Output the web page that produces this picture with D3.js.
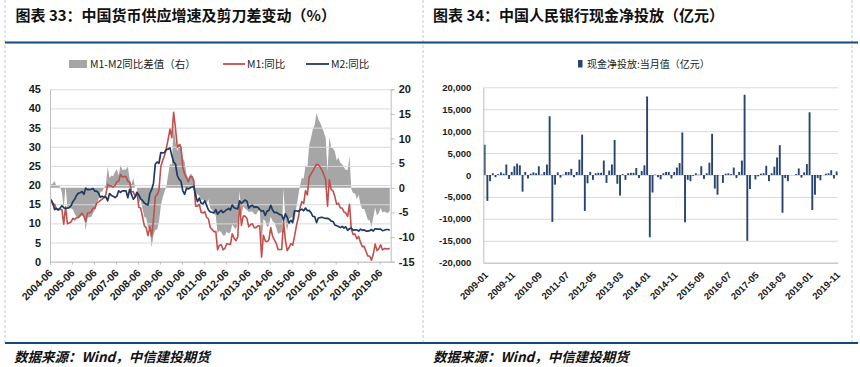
<!DOCTYPE html>
<html><head><meta charset="utf-8">
<script src="https://cdn.jsdelivr.net/npm/d3@7"></script>
<style>
body{margin:0;background:#fff;}
svg{display:block;}
</style></head><body>
<svg id="c" width="860" height="367"></svg>
<script>
// ---------- DATA: left chart (monthly, 2004-06 .. 2019-11) ----------
const leftStart = "2004-06";
const leftTickLabels = ["2004-06","2005-06","2006-06","2007-06","2008-06","2009-06","2010-06","2011-06","2012-06","2013-06","2014-06","2015-06","2016-06","2017-06","2018-06","2019-06"];
const m1 = [
16.2,15.0,15.0,13.7,13.6,13.7,13.6,
9.8,14.3,9.9,10.1,10.4,11.3,11.0,11.5,11.6,12.1,12.7,11.8,
10.6,12.7,12.8,13.0,14.0,13.9,15.3,15.6,16.0,16.3,16.8,17.5,
20.2,19.8,19.8,19.5,19.9,20.9,21.0,22.8,22.1,22.2,22.2,21.0,
20.7,18.2,18.3,16.9,18.1,14.2,14.0,11.7,9.4,8.9,6.8,9.1,
6.7,10.9,17.0,17.5,18.7,24.8,26.4,27.7,29.5,32.0,34.6,32.4,
39.0,34.9,29.9,30.5,29.9,24.6,22.9,21.9,20.9,22.1,22.2,21.2,
14.5,14.5,15.0,12.9,12.7,13.1,11.6,11.2,8.9,8.4,7.8,7.9,
3.1,4.3,4.4,3.1,3.5,4.7,4.6,4.5,7.3,6.1,5.5,6.5,
15.3,9.5,11.9,11.9,11.3,9.1,9.7,9.9,8.9,8.9,9.4,9.3,
1.2,6.9,5.4,5.2,5.7,8.9,6.7,5.7,4.8,3.2,3.2,3.2,
10.6,5.6,2.9,3.7,4.7,4.3,6.6,9.3,11.4,14.0,15.7,15.2,
18.6,17.4,22.1,22.9,23.7,24.6,25.4,25.3,24.7,23.9,22.7,21.4,
14.5,21.4,18.8,18.5,17.0,15.0,15.3,14.0,14.0,13.0,12.7,11.8,
15.0,8.5,7.1,7.2,6.0,6.6,5.1,3.9,4.0,2.7,1.5,1.5,
0.4,2.0,4.6,2.9,3.4,4.4,3.1,3.4,3.4,3.3,3.5];
const m2 = [
16.2,15.3,13.6,13.9,13.5,14.0,14.6,
14.1,13.9,14.0,14.1,14.6,15.7,16.3,17.3,17.9,18.0,18.3,17.6,
19.2,18.8,18.8,18.9,19.1,18.4,18.4,17.9,16.8,17.1,16.8,16.9,
15.9,17.8,17.3,17.1,16.7,17.1,18.5,18.1,18.5,18.5,18.5,16.7,
18.9,17.5,16.3,16.9,18.1,17.4,16.4,16.0,15.3,15.0,14.8,17.8,
18.8,20.5,25.5,26.0,25.7,28.5,28.4,28.5,29.3,29.4,29.7,27.7,
26.0,25.5,22.5,21.5,21.0,18.5,17.6,19.2,19.0,19.3,19.5,19.7,
17.2,15.7,16.6,15.3,15.1,15.9,14.7,13.5,13.0,12.9,12.7,13.6,
12.4,13.0,13.4,12.8,13.2,13.6,13.9,13.5,14.8,14.1,13.9,13.8,
15.9,15.2,15.7,16.1,15.8,14.0,14.5,14.7,14.2,14.3,14.2,13.6,
13.2,13.3,12.1,13.2,13.4,14.7,13.5,12.8,12.9,12.6,12.3,12.2,
10.8,12.5,11.6,10.1,10.8,10.2,13.3,13.3,13.1,13.5,13.7,13.3,
14.0,13.3,13.4,12.8,11.8,11.8,10.2,11.4,11.5,11.6,11.4,11.3,
11.3,11.1,10.6,10.5,9.6,9.4,9.2,8.9,9.2,8.8,9.1,8.2,
8.6,8.8,8.2,8.3,8.3,8.0,8.5,8.2,8.3,8.0,8.0,8.1,
8.4,8.0,8.6,8.5,8.5,8.5,8.1,8.2,8.4,8.4,8.2];
const gap = [
0.6,0.9,1.4,0.3,0.5,0.2,-1.0,
-4.3,0.4,-4.1,-4.0,-4.2,-4.4,-5.3,-5.8,-6.3,-5.9,-5.6,-5.8,
-8.6,-6.1,-6.0,-5.9,-5.1,-4.5,-3.1,-2.3,-0.8,-0.8,0.0,0.6,
4.3,2.0,2.5,2.4,3.2,3.8,2.5,4.7,3.6,3.7,3.7,4.3,
1.8,0.7,2.0,0.0,0.0,-3.2,-2.4,-4.3,-5.9,-6.1,-8.0,-8.7,
-12.1,-9.6,-8.5,-8.5,-7.0,-3.7,-2.0,-0.8,0.2,2.6,4.9,4.7,
13.0,9.4,7.4,9.0,8.9,6.1,5.3,2.7,1.9,2.8,2.7,1.5,
-2.7,-1.2,-1.6,-2.4,-2.4,-2.8,-3.1,-2.3,-4.1,-4.5,-4.9,-5.7,
-9.3,-8.7,-9.0,-9.7,-9.7,-8.9,-9.3,-9.0,-7.5,-8.0,-8.4,-7.3,
-0.6,-5.7,-3.8,-4.2,-4.5,-4.9,-4.8,-4.8,-5.3,-5.4,-4.8,-4.3,
-12.0,-6.4,-6.7,-8.0,-7.7,-5.8,-6.8,-7.1,-8.1,-9.4,-9.1,-9.0,
-0.2,-6.9,-8.7,-6.4,-6.1,-5.9,-6.7,-4.0,-1.7,0.5,2.0,1.9,
4.6,4.1,8.7,10.1,11.9,12.8,15.2,13.9,13.2,12.3,11.3,10.1,
3.2,10.3,8.2,8.0,7.4,5.6,6.1,5.1,4.8,4.2,3.6,3.6,
6.4,-0.3,-1.1,-1.1,-2.3,-1.4,-3.4,-4.3,-4.3,-5.3,-6.5,-6.6,
-8.0,-6.0,-4.0,-5.6,-5.1,-4.1,-5.0,-4.8,-5.0,-5.1,-4.7];
const leftTicksL = [0,5,10,15,20,25,30,35,40,45];
const leftTicksR = [-15,-10,-5,0,5,10,15,20];

// ---------- DATA: right chart (monthly, 2009-01 .. 2019-11, 亿元) ----------
const rightTickLabels = ["2009-01","2009-11","2010-09","2011-07","2012-05","2013-03","2014-01","2014-11","2015-09","2016-07","2017-05","2018-03","2019-01","2019-11"];
const cash = [
6900,-5900,-1400,400,-500,200,600,300,2400,-900,700,2000,
2600,2200,-3800,700,-800,300,600,400,2000,100,700,2400,
13400,-10700,-2200,600,-600,100,700,700,1400,-500,700,3500,
9200,-8200,-1900,700,-1100,400,500,500,3300,-1800,1000,2400,
8000,-2000,-4700,200,-1100,400,500,500,1600,-700,900,2200,
17900,-14200,-4000,100,-500,-1000,400,700,700,-800,700,1700,
2700,9700,-10800,-1100,-1400,-200,400,100,2000,-900,400,2800,
9400,-3100,-4500,0,-1800,300,400,200,1700,-700,700,3300,
18300,-15000,-3200,0,-1000,-300,300,400,2100,-1400,400,1900,
4000,6800,-8600,-700,-1400,0,0,200,1500,-600,600,2500,
14300,-8000,-4500,-700,-1200,0,300,400,1100,-800,800];
const rightTicks = [-20000,-15000,-10000,-5000,0,5000,10000,15000,20000];

// ---------- helpers ----------
const svg = d3.select("#c");
const fmtMinus = f => v => f(v).replace("\u2212","-");
const numFont = "'Liberation Sans', Arial, sans-serif";
const cjkFont = "'Noto Sans CJK SC', sans-serif";
const gridC = "#d9d9d9", axisC = "#bfbfbf";

// ---------- frame ----------
const frame = svg.append("g");
[5, 423, 852].forEach(x => frame.append("line").attr("x1",x).attr("x2",x).attr("y1",0).attr("y2",343)
  .attr("stroke","#c8c8c8").attr("stroke-dasharray","3,2").attr("stroke-width",1));
frame.append("line").attr("x1",5).attr("x2",858).attr("y1",42.5).attr("y2",42.5).attr("stroke","#0f4c7b").attr("stroke-width",2.2);
frame.append("line").attr("x1",5).attr("x2",858).attr("y1",343).attr("y2",343).attr("stroke","#0f4c7b").attr("stroke-width",2.2);

svg.append("text").attr("x",15.5).attr("y",21).attr("font-family",cjkFont).attr("font-weight",700).attr("font-size",15).attr("fill","#111")
  .text("图表 33：中国货币供应增速及剪刀差变动（%）");
svg.append("text").attr("x",433).attr("y",21).attr("font-family",cjkFont).attr("font-weight",700).attr("font-size",15).attr("fill","#111")
  .text("图表 34：中国人民银行现金净投放（亿元）");
[14, 433].forEach(x => svg.append("text").attr("x",x).attr("y",362).attr("font-family",cjkFont).attr("font-weight",700)
  .attr("font-style","italic").attr("font-size",13.5).attr("fill","#111").text("数据来源：Wind，中信建投期货"));

// ---------- LEFT CHART ----------
(function(){
  const X0 = 50, X1 = 390.7, Y0 = 89.3, Y1 = 261.7;
  const n = m1.length;
  const xI = d3.scaleLinear().domain([0, n]).range([X0, X1]);
  const yL = d3.scaleLinear().domain([0,45]).range([Y1, Y0]);
  const yR = d3.scaleLinear().domain([-15,20]).range([Y1, Y0]);
  const g = svg.append("g");

  // area (gap, right axis)
  g.append("path").datum(gap)
    .attr("d", d3.area().x((d,i)=>xI(i+0.5)).y0(yR(0)).y1(d=>yR(d)))
    .attr("fill","#a6a6a6");

  // gridlines
  const grid = g.append("g").attr("transform",`translate(${X0},0)`)
    .call(d3.axisLeft(yL).tickValues(leftTicksL).tickSize(-(X1-X0)).tickFormat(""));
  grid.select(".domain").remove();
  grid.selectAll("line").attr("stroke",gridC).attr("stroke-width",1);

  // lines
  g.append("path").datum(m1).attr("d", d3.line().x((d,i)=>xI(i+0.5)).y(d=>yL(d)))
    .attr("fill","none").attr("stroke","#c0504d").attr("stroke-width",1.6).attr("stroke-linejoin","round");
  g.append("path").datum(m2).attr("d", d3.line().x((d,i)=>xI(i+0.5)).y(d=>yL(d)))
    .attr("fill","none").attr("stroke","#1f3b63").attr("stroke-width",1.7).attr("stroke-linejoin","round");

  // left axis
  const ax = g.append("g").attr("transform",`translate(${X0},0)`)
    .call(d3.axisLeft(yL).tickValues(leftTicksL).tickSize(0).tickPadding(9).tickFormat(d3.format("d")));
  ax.select(".domain").attr("stroke",axisC);
  ax.selectAll("text").attr("font-family",numFont).attr("font-weight",700).attr("font-size",11).attr("fill","#1a1a1a");

  // right axis
  const ar = g.append("g").attr("transform",`translate(${X1},0)`)
    .call(d3.axisRight(yR).tickValues(leftTicksR).tickSize(4).tickPadding(4).tickFormat(fmtMinus(d3.format("d"))));
  ar.select(".domain").attr("stroke",axisC);
  ar.selectAll("line").attr("stroke",axisC);
  ar.selectAll("text").attr("font-family",numFont).attr("font-weight",700).attr("font-size",11).attr("fill","#1a1a1a");

  // bottom axis
  const tickIdx = leftTickLabels.map((d,k)=>k*12);
  const ab = g.append("g").attr("transform",`translate(0,${Y1})`)
    .call(d3.axisBottom(xI).tickValues(tickIdx).tickSize(3).tickSizeOuter(0).tickFormat((d,k)=>leftTickLabels[k]));
  ab.select(".domain").attr("stroke",axisC);
  ab.selectAll("line").attr("stroke",axisC);
  ab.selectAll("text").attr("font-family",numFont).attr("font-weight",700).attr("font-size",10.5).attr("fill","#1a1a1a")
    .attr("text-anchor","end").attr("dy",0).attr("y",0)
    .attr("transform","translate(3,12) rotate(-45)");

  // legend
  const lg = svg.append("g").attr("font-family",cjkFont).attr("font-size",10.5).attr("fill","#222");
  lg.append("rect").attr("x",69).attr("y",60).attr("width",18).attr("height",8).attr("fill","#a6a6a6");
  lg.append("text").attr("x",90).attr("y",68).text("M1-M2同比差值（右）");
  lg.append("line").attr("x1",223).attr("x2",245).attr("y1",64).attr("y2",64).attr("stroke","#c0504d").attr("stroke-width",1.8);
  lg.append("text").attr("x",247).attr("y",68).text("M1:同比");
  lg.append("line").attr("x1",306).attr("x2",329).attr("y1",64).attr("y2",64).attr("stroke","#1f3b63").attr("stroke-width",1.8);
  lg.append("text").attr("x",331).attr("y",68).text("M2:同比");
})();

// ---------- RIGHT CHART ----------
(function(){
  const X0 = 483.3, X1 = 838, Y0 = 87.3, Y1 = 262.7;
  const idx = d3.range(cash.length);
  const xB = d3.scaleBand().domain(idx).range([X0, X1]).paddingInner(0.3).paddingOuter(0.15);
  const y = d3.scaleLinear().domain([-20000,20000]).range([Y1, Y0]);
  const g = svg.append("g");

  const grid = g.append("g").attr("transform",`translate(${X0},0)`)
    .call(d3.axisLeft(y).tickValues(rightTicks).tickSize(-(X1-X0)).tickFormat(""));
  grid.select(".domain").remove();
  grid.selectAll("line").attr("stroke",gridC).attr("stroke-width",1);

  g.selectAll("rect.bar").data(cash).join("rect").attr("class","bar")
    .attr("x",(d,i)=>xB(i)).attr("width",xB.bandwidth())
    .attr("y",d=>Math.min(y(d),y(0))).attr("height",d=>Math.abs(y(d)-y(0)))
    .attr("fill","#284570");

  const ax = g.append("g").attr("transform",`translate(${X0},0)`)
    .call(d3.axisLeft(y).tickValues(rightTicks).tickSize(0).tickPadding(12).tickFormat(fmtMinus(d3.format(","))));
  ax.select(".domain").attr("stroke",axisC);
  ax.selectAll("text").attr("font-family",numFont).attr("font-weight",700).attr("font-size",9.5).attr("fill","#1a1a1a");

  const ab = g.append("g").attr("transform",`translate(0,${Y1})`)
    .call(d3.axisBottom(xB).tickValues(rightTickLabels.map((d,k)=>k*10)).tickSize(0).tickSizeOuter(0).tickFormat((d,k)=>rightTickLabels[k]));
  ab.select(".domain").attr("stroke",axisC);
  ab.selectAll("text").attr("font-family",numFont).attr("font-weight",700).attr("font-size",9.5).attr("fill","#1a1a1a")
    .attr("text-anchor","end").attr("dy",0).attr("y",0)
    .attr("transform","translate(4,13) rotate(-45)");

  const lg = svg.append("g").attr("font-family",cjkFont).attr("font-size",10).attr("fill","#222");
  lg.append("rect").attr("x",578).attr("y",60).attr("width",4.5).attr("height",7.5).attr("fill","#284570");
  lg.append("text").attr("x",587).attr("y",68).text("现金净投放:当月值（亿元）");
})();
</script>
</body></html>
